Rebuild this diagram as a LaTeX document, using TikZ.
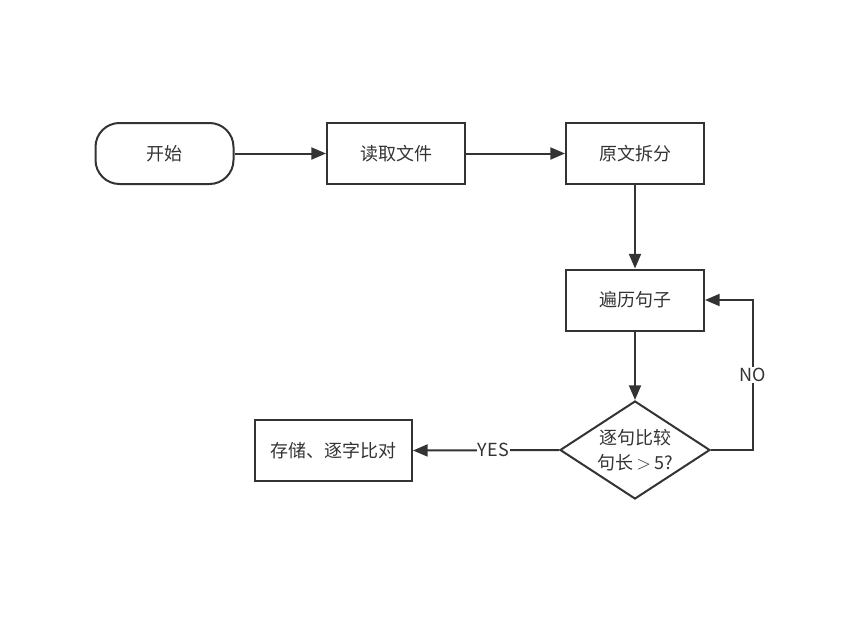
\documentclass[tikz,border=0pt]{standalone}
\usepackage{fontspec}
\setmainfont{Noto Sans CJK SC}
\usetikzlibrary{shapes.geometric,arrows.meta}
\definecolor{linegray}{HTML}{333333}

\begin{document}
\begin{tikzpicture}[x=0.75pt,y=-0.75pt,
	every node/.style={font=\fontsize{13.5}{18.5}\selectfont,text=linegray},
	box/.style={draw=linegray,line width=1.5pt,minimum width=103.5pt,minimum height=45.75pt,inner sep=0pt},
	startbox/.style={box,rounded corners=18pt},
	decision/.style={diamond,draw=linegray,line width=1.5pt,minimum width=112.5pt,minimum height=73.5pt,inner sep=0pt,align=center,aspect=1.5},
	flow/.style={draw=linegray,line width=1.5pt,-{Triangle[length=11pt,width=9pt]}},
	label/.style={fill=white,inner sep=1pt}
	]
	\useasboundingbox (0,0) rectangle (846,621);
	
	\node[startbox] (start) at (164.5,153.5) {开始};
	\node[box] (read) at (396,153.5) {读取文件};
	\node[box] (split) at (635,153.5) {原文拆分};
	\node[box] (loop) at (635,300) {遍历句子};
	\node[decision] (check) at (635,450) {逐句比较\\句长\,$>$\,5?};
	\node[box,minimum width=117.75pt] (store) at (333.5,450.5) {存储、逐字比对};
	\coordinate (back) at (753,300);
	
	\draw[flow] (start) -- (read);
	\draw[flow] (read) -- (split);
	\draw[flow] (split) -- (loop);
	\draw[flow] (loop) -- (check);
	\draw[flow] (check.east) -| (back) node[pos=0.75,label]{NO} -- (loop.east);
	\draw[flow] (check.west) -- (store.east) node[pos=0.45,label]{YES};
	
\end{tikzpicture}
\end{document}
